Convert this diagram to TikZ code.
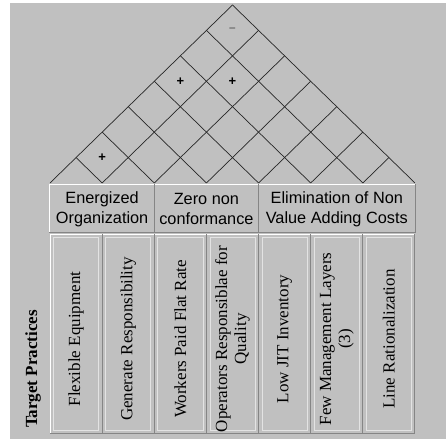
\documentclass[tikz,border=0pt]{standalone}
\usepackage{xcolor}
\usepackage{fontspec}
\setmainfont{Liberation Serif}
\setsansfont{Liberation Sans}

\definecolor{panel}{HTML}{C0C0C0}
\definecolor{shade}{HTML}{858585}

\tikzset{
	roofline/.style={line width=0.7pt, color=black!85},
	corrmark/.style={inner sep=0pt, font=\sffamily\bfseries\fontsize{13}{13}\selectfont},
	groupcell/.style={rectangle, draw=white, fill=panel, line width=1pt, minimum height=48pt, inner sep=0pt, align=center, font=\sffamily\fontsize{16.3}{20}\selectfont},
	practcell/.style={rectangle, draw=white, fill=panel, line width=1pt, minimum width=52.14pt, minimum height=198pt, inner sep=0pt},
	practlabel/.style={rotate=90, align=center, inner sep=0pt, font=\fontsize{17}{19}\selectfont},
	shadeline/.style={line width=1pt, color=shade},
	innerline/.style={line width=0.6pt, color=white!55!panel}
}

\begin{document}
\begin{tikzpicture}[x=1pt, y=1pt]
	\useasboundingbox (0,0) rectangle (446,439);
	\fill[white] (0,0) rectangle (446,439);
	\fill[panel] (10,0) rectangle (446,436);

	% Roof of the house
	\begin{scope}[shift={(50pt,256pt)}, x=52.14pt, y=50.86pt]
		\foreach \k in {0,...,6}
			\draw[roofline] (\k,0) -- ({(\k+7)/2},{(7-\k)/2});
		\foreach \k in {1,...,7}
			\draw[roofline] (\k,0) -- ({\k/2},{\k/2});

		\node[corrmark] (c12) at (1,0.5) {+};
		\node[corrmark] (c15) at (2.5,2) {+};
		\node[corrmark] (c26) at (3.5,2) {+};
		\node[corrmark, font=\sffamily\fontsize{12}{12}\selectfont, color=black!70] (c17) at (3.5,3) {−};
	\end{scope}

	% Goal headings
	\node[groupcell, minimum width=104.3pt] (g1) at (102.1,230) {Energized\\Organization};
	\node[groupcell, minimum width=104.3pt] (g2) at (206.4,230) {Zero non\\conformance};
	\node[groupcell, minimum width=156.4pt] (g3) at (336.8,230) {Elimination of Non\\Value Adding Costs};

	% Practice columns
	\foreach \i in {1,...,7}
		\node[practcell] (p\i) at ({50+52.14*(\i-0.5)},105) {};

	\foreach \n in {g1,g2,g3,p1,p2,p3,p4,p5,p6,p7}
		\draw[shadeline] ([shift={(-0.5pt,0pt)}]\n.north east) -- ([shift={(-0.5pt,0.5pt)}]\n.south east) -- ([shift={(0pt,0.5pt)}]\n.south west);
	\foreach \i in {1,...,7}
		\draw[innerline] ([shift={(4pt,3pt)}]p\i.south west) rectangle ([shift={(-4pt,-3pt)}]p\i.north east);

	\node[practlabel] (t1) at ([yshift=-5pt]p1.center) {Flexible Equipment};
	\node[practlabel] (t2) at ([yshift=-5pt]p2.center) {Generate Responsibility};
	\node[practlabel] (t3) at ([yshift=-5pt]p3.center) {Workers Paid Flat Rate};
	\node[practlabel] (t4) at ([yshift=-5pt]p4.center) {Operators Responsiblae for\\Quality};
	\node[practlabel] (t5) at ([yshift=-5pt]p5.center) {Low JIT Inventory};
	\node[practlabel] (t6) at ([yshift=-5pt]p6.center) {Few Management Layers\\(3)};
	\node[practlabel] (t7) at ([yshift=-5pt]p7.center) {Line Rationalization};

	\node[practlabel, font=\bfseries\fontsize{17}{19}\selectfont] (tp) at (33,70) {Target Practices};
\end{tikzpicture}
\end{document}
